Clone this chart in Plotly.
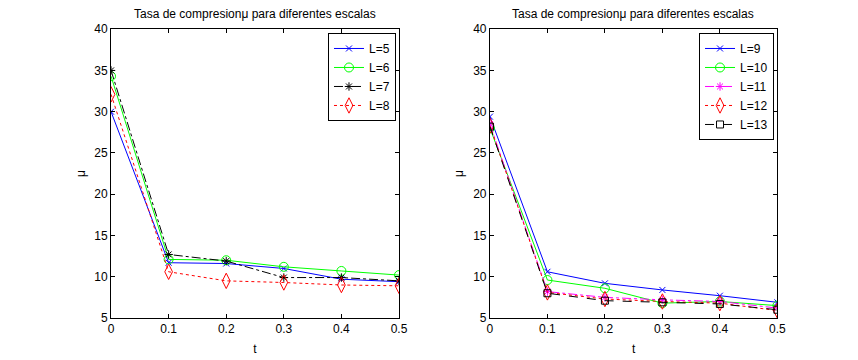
import plotly.graph_objects as go

t = [0, 0.1, 0.2, 0.3, 0.4, 0.5]

# panel izquierdo
L5 = [30.0, 11.7, 11.6, 11.0, 9.7, 9.4]
L6 = [34.3, 12.1, 12.0, 11.2, 10.7, 10.2]
L7 = [35.0, 12.7, 11.9, 9.9, 9.9, 9.5]
L8 = [32.1, 10.6, 9.5, 9.3, 9.0, 8.9]

# panel derecho
L9 = [29.4, 10.6, 9.2, 8.4, 7.7, 6.9]
L10 = [28.0, 9.6, 8.6, 6.8, 7.0, 6.5]
L11 = [28.5, 8.2, 7.5, 7.2, 7.0, 6.2]
L12 = [28.3, 8.1, 7.3, 7.0, 6.8, 5.9]
L13 = [28.2, 8.0, 7.1, 6.9, 6.7, 6.0]

title = 'Tasa de compresion\u03bc para diferentes escalas'
font = dict(family='Liberation Sans, Arial, sans-serif', size=12, color='black')

left = [
    ('L=5', L5, 'blue', 'solid', 'x-thin-open', 6),
    ('L=6', L6, '#00ff00', 'solid', 'circle-open', 9),
    ('L=7', L7, 'black', 'dashdot', 'asterisk-open', 7),
    ('L=8', L8, 'red', 'dot', 'diamond-tall-open', 11),
]
right = [
    ('L=9', L9, 'blue', 'solid', 'x-thin-open', 6),
    ('L=10', L10, '#00ff00', 'solid', 'circle-open', 9),
    ('L=11', L11, 'magenta', 'dashdot', 'asterisk-open', 7),
    ('L=12', L12, 'red', 'dot', 'diamond-tall-open', 11),
    ('L=13', L13, 'black', 'dash', 'square-open', 7),
]

fig = go.Figure()
for name, y, c, d, sym, sz in left:
    fig.add_scatter(x=t, y=y, name=name, mode='lines+markers', xaxis='x', yaxis='y',
                    line=dict(color=c, dash=d, width=1),
                    marker=dict(symbol=sym, size=sz, color=c, line=dict(color=c, width=1)),
                    legend='legend')
for name, y, c, d, sym, sz in right:
    fig.add_scatter(x=t, y=y, name=name, mode='lines+markers', xaxis='x2', yaxis='y2',
                    line=dict(color=c, dash=d, width=1),
                    marker=dict(symbol=sym, size=sz, color=c, line=dict(color=c, width=1)),
                    legend='legend2')

ax = dict(showline=True, linecolor='black', linewidth=1, mirror='ticks', ticks='inside',
          ticklen=4, tickcolor='black', showgrid=False, zeroline=False, tickfont=font,
          automargin=False)
fig.update_layout(
    width=858, height=360, margin=dict(l=0, r=0, t=0, b=0, autoexpand=False),
    paper_bgcolor='white', plot_bgcolor='white', font=font,
    xaxis=dict(ax, domain=[0.1201, 0.4557], range=[0, 0.5], dtick=0.1, tickformat='.1~f', anchor='y',
               title=dict(text='t', font=font, standoff=9)),
    yaxis=dict(ax, domain=[0.1389, 0.9412], range=[5, 40], dtick=5, anchor='x',
               title=dict(text='\u03bc', font=font, standoff=6)),
    xaxis2=dict(ax, domain=[0.5617, 0.8967], range=[0, 0.5], dtick=0.1, tickformat='.1~f', anchor='y2',
                title=dict(text='t', font=font, standoff=9)),
    yaxis2=dict(ax, domain=[0.1389, 0.9412], range=[5, 40], dtick=5, anchor='x2',
                title=dict(text='\u03bc', font=font, standoff=6)),
    legend=dict(x=0.4522, y=0.9306, xanchor='right', yanchor='top', bordercolor='black', borderwidth=1,
                bgcolor='white', font=font, tracegroupgap=0, itemwidth=30),
    legend2=dict(x=0.8928, y=0.9306, xanchor='right', yanchor='top', bordercolor='black', borderwidth=1,
                 bgcolor='white', font=font, tracegroupgap=0, itemwidth=30),
    annotations=[
        dict(text=title, x=0.288, y=1.0, xref='paper', yref='paper', xanchor='center', yanchor='top',
             yshift=3, showarrow=False, font=font),
        dict(text=title, x=0.7284, y=1.0, xref='paper', yref='paper', xanchor='center', yanchor='top',
             yshift=3, showarrow=False, font=font),
    ],
)
fig.write_html('out.html')
